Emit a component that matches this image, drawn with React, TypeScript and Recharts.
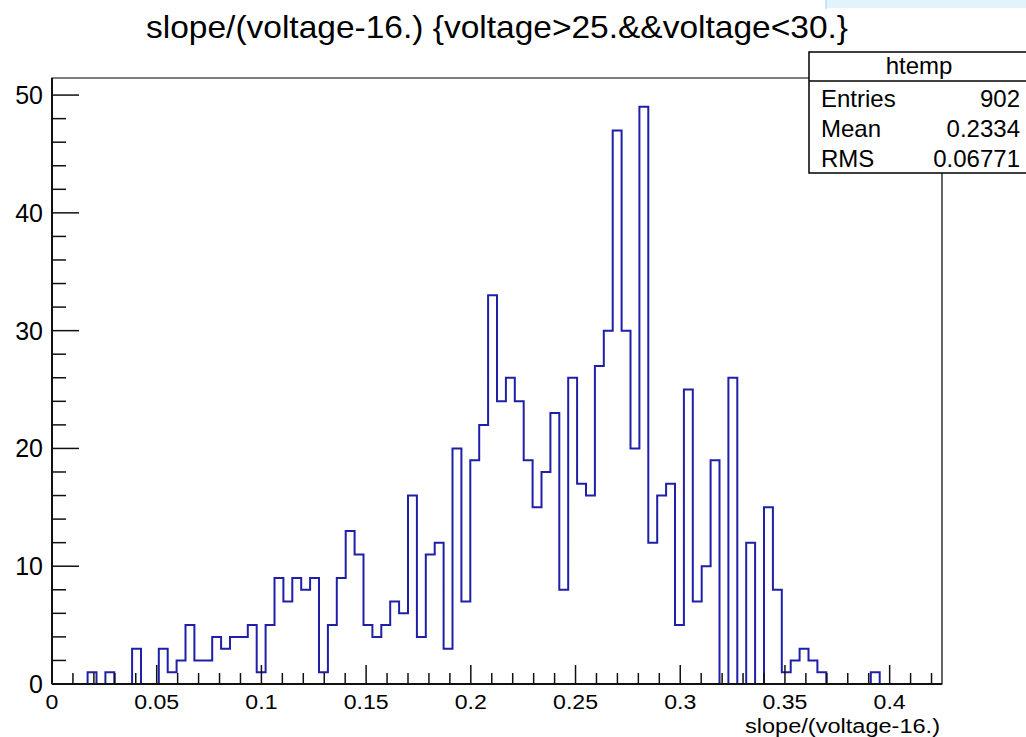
import React from "react";
import { ComposedChart, Line, XAxis, YAxis, ReferenceArea, ReferenceLine } from "recharts";

// htemp: slope/(voltage-16.), 100 bins over [0, 0.425]
const X_MIN = 0;
const X_MAX = 0.425;
const Y_MAX = 51.45;

const COUNTS = [
  0, 0, 0, 0, 1, 0, 1, 0, 0, 3,
  0, 0, 3, 1, 2, 5, 2, 2, 4, 3,
  4, 4, 5, 1, 5, 9, 7, 9, 8, 9,
  1, 5, 9, 13, 11, 5, 4, 5, 7, 6,
  16, 4, 11, 12, 3, 20, 7, 19, 22, 33,
  24, 26, 24, 19, 15, 18, 23, 8, 26, 17,
  16, 27, 30, 47, 30, 20, 49, 12, 16, 17,
  5, 25, 7, 10, 19, 0, 26, 0, 12, 0,
  15, 8, 1, 2, 3, 2, 1, 0, 0, 0,
  0, 0, 1, 0, 0, 0, 0, 0, 0, 0,
];

const X_TICKS = [
  0, 0.01, 0.02, 0.03, 0.04, 0.05, 0.06, 0.07, 0.08, 0.09,
  0.1, 0.11, 0.12, 0.13, 0.14, 0.15, 0.16, 0.17, 0.18, 0.19,
  0.2, 0.21, 0.22, 0.23, 0.24, 0.25, 0.26, 0.27, 0.28, 0.29,
  0.3, 0.31, 0.32, 0.33, 0.34, 0.35, 0.36, 0.37, 0.38, 0.39,
  0.4, 0.41, 0.42,
];
const Y_TICKS = [0, 2, 4, 6, 8, 10, 12, 14, 16, 18, 20, 22, 24, 26, 28, 30, 32, 34, 36, 38, 40, 42, 44, 46, 48, 50];

const STATS_NAMES = ["Entries", "Mean", "RMS"];
const STATS_VALUES = ["902", "0.2334", "0.06771"];

const TITLE = "slope/(voltage-16.) {voltage>25.&&voltage<30.}";
const X_TITLE = "slope/(voltage-16.)";

const FONT = "'Liberation Sans', Arial, Helvetica, sans-serif";

// step outline points: left edge of each bin, plus the closing right edge
const binWidth = (X_MAX - X_MIN) / COUNTS.length;
const data = COUNTS.map((c, i) => ({ x: X_MIN + i * binWidth, count: c }));
data.push({ x: X_MAX, count: COUNTS[COUNTS.length - 1] });

const XTick = (props: any) => {
  const { x, y, payload } = props;
  const v = payload.value as number;
  const major = Math.round(v * 100) % 5 === 0;
  return (
    <g>
      <line x1={x} x2={x} y1={y} y2={y - (major ? 19 : 11)} stroke="#111" strokeWidth={1.5} />
      {major && (
        <text
          transform={`translate(${x},${y + 25}) scale(1.1,1)`}
          textAnchor="middle"
          fontSize={21}
          fontFamily={FONT}
          fill="#000"
        >
          {parseFloat(v.toFixed(2)).toString()}
        </text>
      )}
    </g>
  );
};

const YTick = (props: any) => {
  const { x, y, payload } = props;
  const v = payload.value as number;
  const major = v % 10 === 0;
  return (
    <g>
      <line x1={x} x2={x + (major ? 27 : 14)} y1={y} y2={y} stroke="#111" strokeWidth={1.5} />
      {major && (
        <text x={x - 9} y={y + 9} textAnchor="end" fontSize={25} fontFamily={FONT} fill="#000">
          {v}
        </text>
      )}
    </g>
  );
};

export default function App() {
  return (
    <div style={{ position: "absolute", left: 0, top: 0, width: 1026, height: 737, overflow: "hidden", background: "#fff" }}>
      <ComposedChart width={1026} height={737} data={data} margin={{ top: 78, right: 84, bottom: 0, left: 0 }}>
        <XAxis
          dataKey="x"
          type="number"
          domain={[X_MIN, X_MAX]}
          ticks={X_TICKS}
          interval={0}
          tickSize={0}
          tickMargin={0}
          tick={<XTick />}
          height={53}
          axisLine={{ stroke: "#111", strokeWidth: 2 }}
          allowDataOverflow
        />
        <YAxis
          type="number"
          domain={[0, Y_MAX]}
          ticks={Y_TICKS}
          interval={0}
          tickSize={0}
          tickMargin={0}
          tick={<YTick />}
          width={52}
          axisLine={{ stroke: "#111", strokeWidth: 2 }}
          allowDataOverflow
        />
        <Line
          dataKey="count"
          type="stepAfter"
          stroke="#1f1fa8"
          strokeWidth={2}
          dot={false}
          activeDot={false}
          isAnimationActive={false}
        />
        <ReferenceArea x1={X_MIN} x2={X_MAX} y1={0} y2={Y_MAX} fill="none" stroke="#000" strokeWidth={1.2} ifOverflow="visible" />
        <ReferenceLine y={0} stroke="#111" strokeWidth={2} />
      </ComposedChart>

      <svg width={1026} height={737} style={{ position: "absolute", left: 0, top: 0, pointerEvents: "none" }}>
        <rect x={826} y={0} width={200} height={8} fill="#e3f3fc" />
        <line x1={826} y1={0} x2={826} y2={9} stroke="#b5e0f4" strokeWidth={1.5} />

        <text x={497} y={38} textAnchor="middle" fontSize={32} fontFamily={FONT} fill="#000" textLength={702} lengthAdjust="spacingAndGlyphs">
          {TITLE}
        </text>

        <rect x={809} y={52} width={222} height={121} fill="#fff" stroke="#000" strokeWidth={1.5} />
        <line x1={809} y1={81} x2={1026} y2={81} stroke="#000" strokeWidth={1.5} />
        <text x={919} y={74} textAnchor="middle" fontSize={24} fontFamily={FONT} fill="#000">
          htemp
        </text>
        {STATS_NAMES.map((name, i) => (
          <g key={name}>
            <text x={821} y={107 + i * 30} fontSize={24} fontFamily={FONT} fill="#000">
              {name}
            </text>
            <text x={1020} y={107 + i * 30} textAnchor="end" fontSize={24} fontFamily={FONT} fill="#000">
              {STATS_VALUES[i]}
            </text>
          </g>
        ))}

        <text x={940} y={733} textAnchor="end" fontSize={20} fontFamily={FONT} fill="#000" textLength={195} lengthAdjust="spacingAndGlyphs">
          {X_TITLE}
        </text>
      </svg>
    </div>
  );
}
